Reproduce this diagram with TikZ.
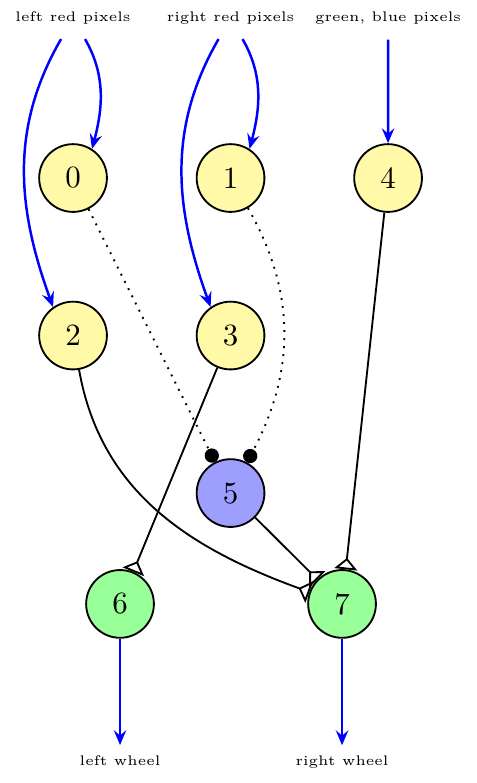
\documentclass[tikz,border=0pt]{standalone}
\usepackage{amsmath,amssymb}
\usepackage{tikz}
\usetikzlibrary{arrows.meta,positioning}
\definecolor{pixyellow}{HTML}{FFF9A8}

\begin{document}
\begin{tikzpicture}[node distance={1.79cm}]
				\tikzstyle{c}=[circle, draw, semithick, minimum size=0.77cm, inner sep=0pt]
				\tikzstyle{lbl}=[font=\fontsize{4.5pt}{5.5pt}\selectfont]
				\tikzstyle{s}=[fill=pixyellow]
				\tikzstyle{h}=[fill=blue!38]
				\tikzstyle{m}=[fill=green!40]
				\tikzstyle{wire}=[blue, thick, -{Stealth[length=4.8pt,width=4pt,inset=1.7pt]}]
				\tikzstyle{inh}=[semithick, -{Triangle[open,reversed,length=3.7pt,width=7.4pt]}]
				\tikzstyle{dot}=[semithick, dotted, -{Circle[length=4.6pt]}]

				\useasboundingbox (-0.83,2.023) rectangle (4.58,-6.875);

				\node[s,c] (n0) {0};
				\node[s,c] (n1) [right of=n0] {1};
				\node[s,c] (n4) [right of=n1] {4};
				\node[s,c] (n2) [below of=n0] {2};
				\node[s,c] (n3) [below of=n1] {3};
				\node[h,c] (n5) [below of=n3] {5};
				\node[m,c] (n6) at (0.534,-4.84) {6};
				\node[m,c] (n7) at (3.057,-4.84) {7};

				\node[lbl] (lred) at (0,1.82) {left red pixels};
				\node[lbl] (rred) at (1.79,1.82) {right red pixels};
				\node[lbl] (gb) at (3.58,1.82) {green, blue pixels};
				\node[lbl, anchor=base] (lw) at (0.534,-6.68) {left wheel};
				\node[lbl, anchor=base] (rw) at (3.057,-6.68) {right wheel};

				\draw[wire, shorten <=1.5pt] ([xshift=-0.11cm]lred.south) to[out=-120,in=110] (n2.125);
				\draw[wire, shorten <=1.5pt] ([xshift=0.11cm]lred.south) to[out=-60,in=75] (n0.57);
				\draw[wire, shorten <=1.5pt] ([xshift=-0.11cm]rred.south) to[out=-120,in=110] (n3.125);
				\draw[wire, shorten <=1.5pt] ([xshift=0.11cm]rred.south) to[out=-60,in=75] (n1.57);
				\draw[wire, shorten <=1.5pt] (gb) -- (n4);
				\draw[wire] (n6) -- (lw);
				\draw[wire] (n7) -- (rw);

				\foreach \from/\to in {n3/n6,n4/n7,n5/n7}
				\draw[inh] (\from) -- (\to);
				\draw[inh] (n2) to[out=-80,in=160] (n7);
				\draw[dot] (n0) -- (n5);
				\draw[dot] (n1) to[out=-60,in=62] (n5);
			\end{tikzpicture}
\end{document}
